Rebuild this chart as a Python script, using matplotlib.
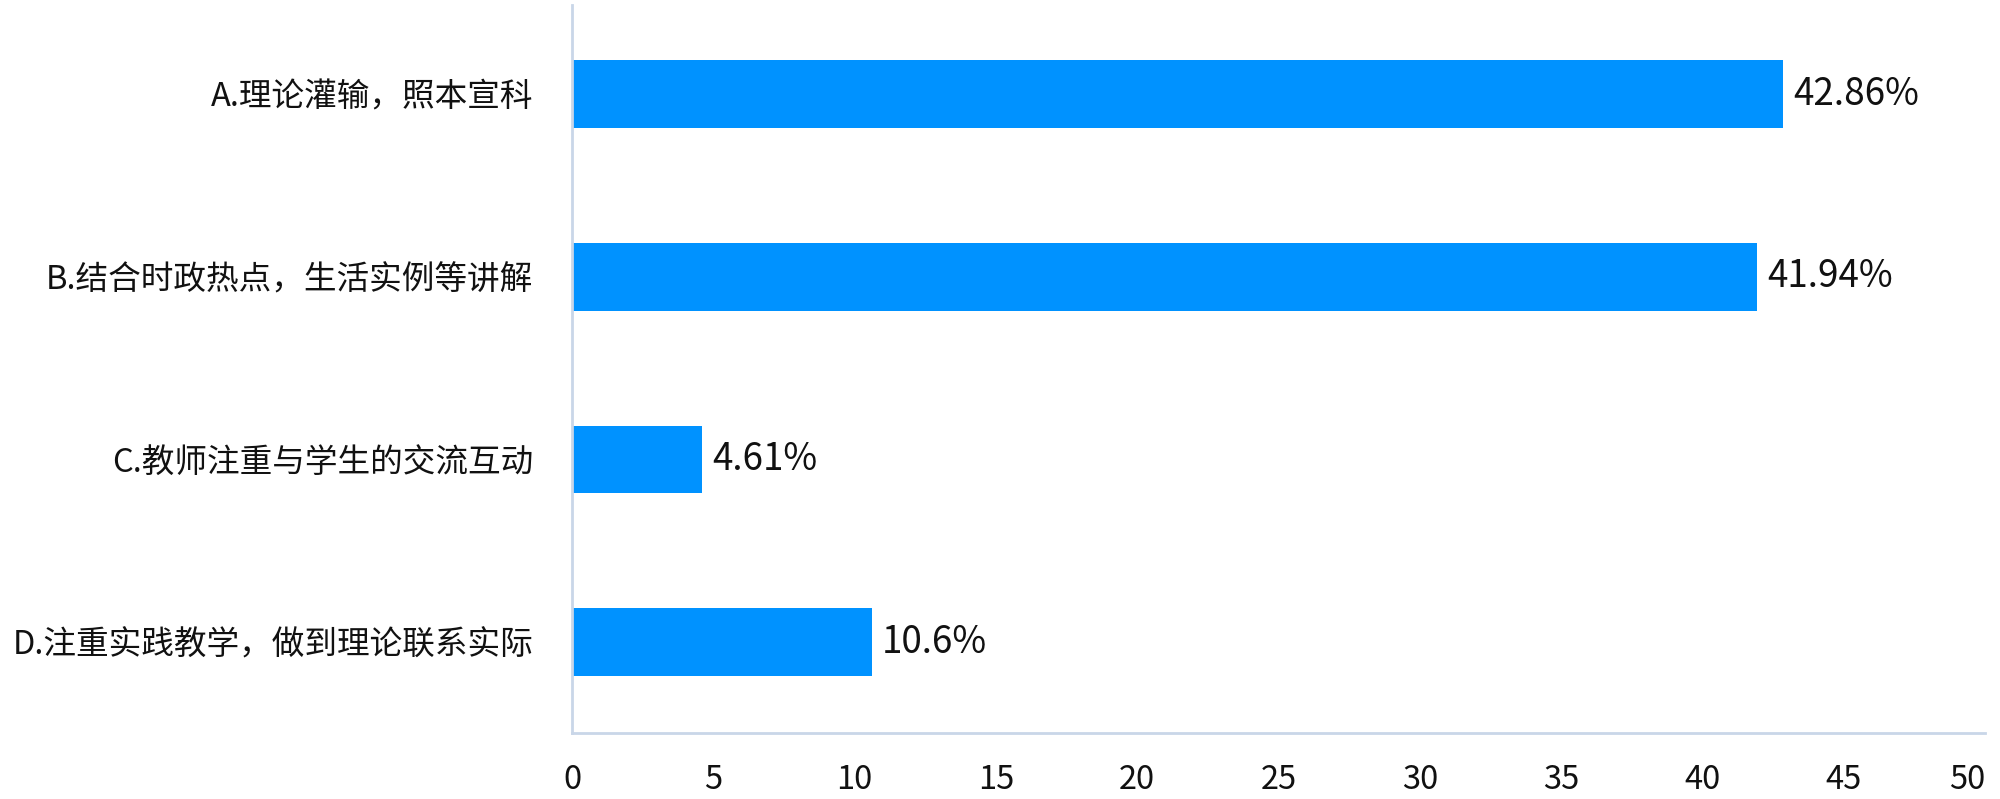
import matplotlib.pyplot as plt

plt.rcParams['font.family'] = ['Noto Sans CJK SC', 'DejaVu Sans']

# Data
categories = ['A.理论灌输，照本宣科',
              'B.结合时政热点，生活实例等讲解',
              'C.教师注重与学生的交流互动',
              'D.注重实践教学，做到理论联系实际']
values = [42.86, 41.94, 4.61, 10.6]
value_labels = ['42.86%', '41.94%', '4.61%', '10.6%']
xticks = [0, 5, 10, 15, 20, 25, 30, 35, 40, 45, 50]

bar_color = '#0092FF'
axis_color = '#C9D6E8'

fig = plt.figure(figsize=(20, 7.99), dpi=100)
ax = fig.add_axes([0.286, 0.082, 0.7065, 0.912])

ypos = list(range(len(categories)))
bars = ax.barh(ypos, values, height=0.37, color=bar_color)

for bar, txt in zip(bars, value_labels):
    ax.text(bar.get_width() + 0.35, bar.get_y() + bar.get_height() / 2, txt,
            va='center', ha='left', fontsize=26.5, color='#111111')

ax.set_yticks(ypos)
ax.set_yticklabels(categories, fontsize=23.5)
ax.set_xticks(xticks)
ax.set_xticklabels([str(t) for t in xticks], fontsize=23.5)
# last tick label is pulled inside the canvas, as in the original
ax.get_xticklabels()[-1].set_horizontalalignment('right')
ax.get_xticklabels()[-1].set_x(50.0)
ax.set_xlim(0, 50)
ax.set_ylim(3.5, -0.49)

ax.tick_params(axis='both', length=0, colors='#111111')
ax.tick_params(axis='y', pad=28)
ax.tick_params(axis='x', pad=22)

for side in ['top', 'right']:
    ax.spines[side].set_visible(False)
for side in ['left', 'bottom']:
    ax.spines[side].set_color(axis_color)
    ax.spines[side].set_linewidth(2)

plt.savefig('out.png', dpi=100)
